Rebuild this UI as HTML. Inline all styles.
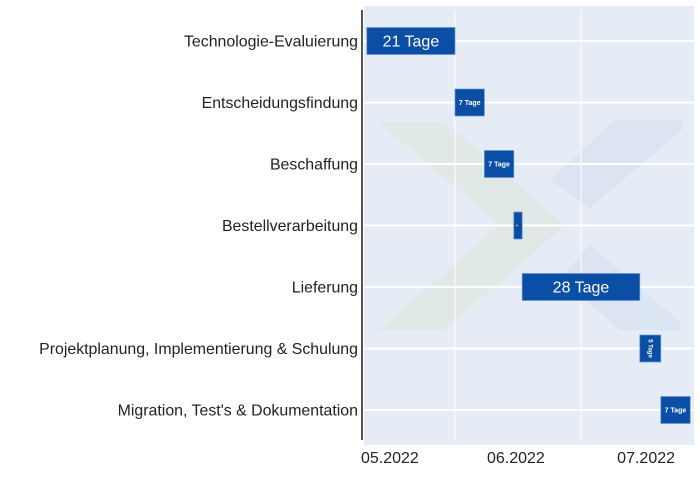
<!DOCTYPE html>
<html><head><meta charset="utf-8"><style>
body{margin:0;background:#fff;}
svg{display:block;font-family:"Liberation Sans",sans-serif;}
</style></head><body>
<svg id="chart" width="700" height="500">
<rect x="364" y="6" width="330" height="439" fill="#e5ecf6"/>
<g opacity="0.8">
<polygon points="378,122 445,122 565,225 445,330 378,330 500,225" fill="#e0e8e4"/>
<polygon points="615,120 682,120 682,130 590,208 550,180" fill="#dae3f1"/>
<polygon points="590,245 680,322 680,330 620,330 560,278" fill="#dae3f1"/>
</g>
<g id="grid"></g>
<g id="bars"></g>
<g id="ylabels"></g>
<g id="xlabels"></g>
<line x1="362" y1="10" x2="362" y2="440" stroke="#555" stroke-width="2"/>
</svg>
<script>
const tasks=["Technologie-Evaluierung","Entscheidungsfindung","Beschaffung","Bestellverarbeitung","Lieferung","Projektplanung, Implementierung & Schulung","Migration, Test's & Dokumentation"];
const startDay=[-21,0,7,14,16,44,49];
const durations=[21,7,7,2,28,5,7];
const barLabels=["21 Tage","7 Tage","7 Tage","2","28 Tage","5 Tage","7 Tage"];
const monthTicks=[0,30];
const periodLabels=["05.2022","06.2022","07.2022"];
const periodCenters=[-15.5,14.5,45.5];
const NS="http://www.w3.org/2000/svg";
const x=d=>455+d*4.2;
const y=i=>41+i*61.5;
function el(t,a,p){const e=document.createElementNS(NS,t);for(const k in a)e.setAttribute(k,a[k]);p.appendChild(e);return e;}
const grid=document.getElementById('grid'),bars=document.getElementById('bars'),yl=document.getElementById('ylabels'),xl=document.getElementById('xlabels');
tasks.forEach((t,i)=>{
 const g=el('line',{x1:364,x2:694,y1:y(i),y2:y(i),stroke:'#fff','stroke-width':2},grid);
 
 
 const lab=el('text',{x:358,y:y(i)+5.5,'text-anchor':'end','font-size':15.9,fill:'#222'},yl);
 lab.textContent=t;
 
 
});
monthTicks.forEach(d=>{
 const g=el('line',{x1:x(d),x2:x(d),y1:10,y2:440,stroke:'#fff','stroke-width':1},grid);
 
 
});
periodLabels.forEach((p,i)=>{
 const t=el('text',{x:x(periodCenters[i]),y:463,'text-anchor':'middle','font-size':16,fill:'#222'},xl);
 t.textContent=p;
 
 
});
tasks.forEach((t,i)=>{
 const x0=x(startDay[i]),w=durations[i]*4.2,cy=y(i);
 const r=el('rect',{x:x0,y:cy-13.5,width:w,height:27,fill:'#0a4fa5',stroke:'#6a95cc','stroke-width':0.7},bars);
 
 
 let fs=w>60?16:(w>25?7:6);
 const tx=el('text',{x:x0+w/2,y:cy+(fs>10?5.5:2.5),'text-anchor':'middle','font-size':fs,fill:'#fff','font-weight':fs>10?'normal':'bold'},bars);
 if(w<25){tx.setAttribute('transform','rotate(90 '+(x0+w/2)+' '+cy+')');tx.setAttribute('y',cy+2);if(w<10)tx.setAttribute('font-size',3);}
 tx.textContent=barLabels[i];
 
 
});
</script>
</body></html>
